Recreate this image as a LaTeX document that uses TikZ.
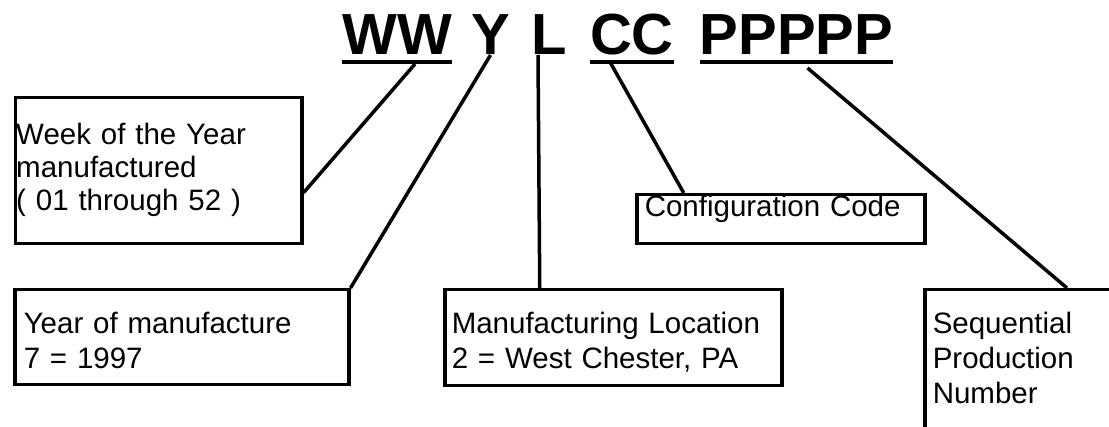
\documentclass[tikz,border=0pt]{standalone}
\usepackage{fontspec}
\setmainfont{Liberation Sans}

\begin{document}
\begin{tikzpicture}[x=1pt, y=-1pt,
	every node/.style={font=\fontsize{29.5}{35}\selectfont},
	code/.style={font=\fontsize{58}{58}\selectfont\bfseries, anchor=base, inner sep=0pt},
	field/.style={draw, line width=3.5pt, anchor=north west, align=left, inner ysep=0pt, inner xsep=7pt},
	lead/.style={line width=3.5pt}]
	\useasboundingbox (0,0) rectangle (1109,427);
	\clip (0,0) rectangle (1109,427);
	% serial number
	\node[code] (ww) at (397,55) {WW};
	\node[code] (yy) at (490.5,55) {Y};
	\node[code] (ll) at (549,55) {L};
	\node[code] (cc) at (632,55) {CC};
	\node[code] (pp) at (796.5,55) {PPPPP};
	\draw[lead] ([yshift=-7pt]ww.base west) -- ([yshift=-7pt]ww.base east);
	\draw[lead] ([yshift=-7pt]cc.base west) -- ([yshift=-7pt]cc.base east);
	\draw[lead] ([yshift=-7pt]pp.base west) -- ([yshift=-7pt]pp.base east);
	% boxes
	\node[field, inner xsep=1pt, text width=284.5pt, text height=47pt, text depth=99pt, font=\fontsize{29.5}{33}\selectfont] (week) at (13.5,96) {Week of the Year\\manufactured\\( 01 through 52 )};
	\node[field, inner xsep=9pt, text width=316pt, text height=44pt, text depth=51pt] (year) at (13,288) {Year of manufacture\\7 = 1997};
	\node[field, text width=323pt, text height=44pt, text depth=52pt] (loc) at (443,288) {Manufacturing Location\\2 = West Chester, PA};
	\node[field, inner xsep=8pt, text width=272pt, text height=22pt, text depth=27pt] (cfg) at (635,193) {Configuration Code};
	\node[field, inner xsep=8pt, text width=234pt, text height=44pt, text depth=150pt] (seq) at (923,288) {Sequential\\Production\\Number};
	% leaders
	\draw[lead] ([xshift=18pt,yshift=-9pt]ww.base) -- ([yshift=-22pt]week.east);
	\draw[lead] (yy.base) -- (year.north east);
	\draw[lead] ([xshift=-11pt]ll.base) -- ([xshift=-73.5pt]loc.north);
	\draw[lead] ([xshift=-22pt,yshift=-7pt]cc.base) -- ([xshift=-97pt]cfg.north);
	\draw[lead] ([xshift=11pt,yshift=-13pt]pp.base) -- ([xshift=144pt]seq.north west);
\end{tikzpicture}
\end{document}
